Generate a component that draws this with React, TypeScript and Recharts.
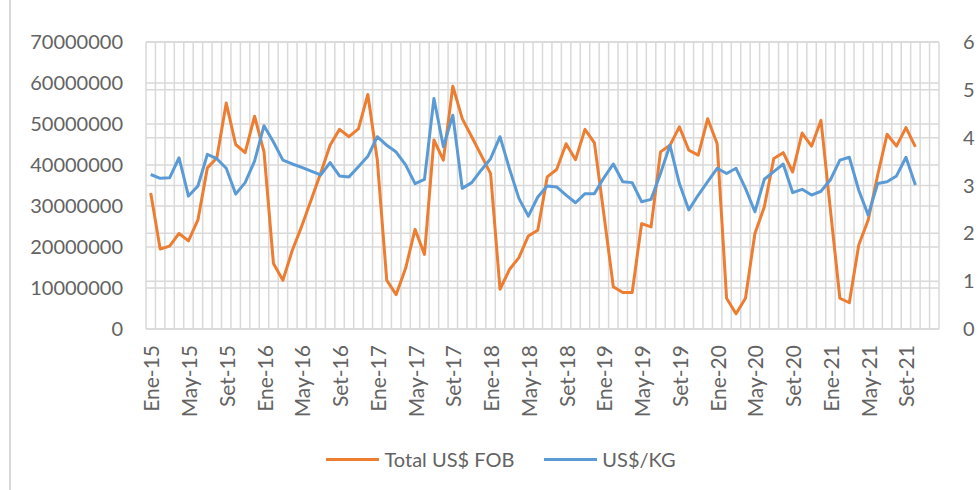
import { LineChart, Line, XAxis, YAxis, CartesianGrid, Legend } from "recharts";

/* ─── Datos ─── */

const MESES = ["Ene", "Feb", "Mar", "Abr", "May", "Jun", "Jul", "Ago", "Set", "Oct", "Nov", "Dic"];
const ANIOS = ["15", "16", "17", "18", "19", "20", "21"];

// Ene-15 .. Dic-21 (los dos últimos meses sin datos)
const categorias = ANIOS.flatMap((a) => MESES.map((m) => `${m}-${a}`));

const totalFob = [
  33200000, 19500000, 20200000, 23300000, 21500000, 26600000, 39300000, 41700000, 55100000, 45000000, 43000000, 51900000,
  43200000, 16000000, 11900000, 19200000, 25100000, 31500000, 38000000, 44800000, 48700000, 46900000, 48800000, 57200000,
  41200000, 11900000, 8400000, 14800000, 24300000, 18200000, 46100000, 41200000, 59200000, 51300000, 46900000, 42400000,
  37900000, 9700000, 14500000, 17400000, 22700000, 24100000, 37100000, 38900000, 45200000, 41300000, 48700000, 45400000,
  28000000, 10300000, 8900000, 8900000, 25700000, 24900000, 43200000, 44800000, 49300000, 43600000, 42400000, 51300000,
  45200000, 7500000, 3700000, 7500000, 23300000, 29800000, 41600000, 43000000, 38300000, 47800000, 44600000, 50900000,
  29000000, 7500000, 6400000, 20500000, 26600000, 37500000, 47500000, 44600000, 49100000, 44400000,
];

const usdKg = [
  3.23, 3.15, 3.16, 3.58, 2.78, 2.99, 3.65, 3.56, 3.36, 2.82, 3.06, 3.51,
  4.25, 3.91, 3.53, 3.45, 3.38, 3.3, 3.22, 3.48, 3.2, 3.18, 3.39, 3.61,
  4.02, 3.84, 3.7, 3.43, 3.04, 3.13, 4.82, 3.81, 4.47, 2.94, 3.06, 3.32,
  3.56, 4.02, 3.35, 2.73, 2.36, 2.76, 2.99, 2.97, 2.8, 2.64, 2.83, 2.83,
  3.16, 3.45, 3.08, 3.06, 2.66, 2.71, 3.25, 3.84, 3.04, 2.49, 2.8, 3.08,
  3.36, 3.25, 3.36, 2.94, 2.45, 3.13, 3.29, 3.45, 2.85, 2.92, 2.8, 2.88,
  3.12, 3.53, 3.59, 2.9, 2.38, 3.04, 3.08, 3.2, 3.59, 3.01,
];

const ticksIzq = [0, 10000000, 20000000, 30000000, 40000000, 50000000, 60000000, 70000000];
const ticksDer = [0, 1, 2, 3, 4, 5, 6];

const data = categorias.map((mes, i) => ({
  idx: i,
  mes,
  fob: totalFob[i] ?? null,
  kg: usdKg[i] ?? null,
}));

/* ─── Ejes auxiliares (etiquetas cada 4 meses, marcas en los bordes de categoría) ─── */

const n = categorias.length;
const dominio: [number, number] = [-0.5, n - 0.5];
const ticksEtiquetas = categorias.map((_, i) => i).filter((i) => i % 4 === 0);
const ticksBordes = Array.from({ length: n + 1 }, (_, i) => i - 0.5);
const ticksMarcas = ticksBordes.filter((_, i) => i % 4 === 0);

const FUENTE = "Lato, 'Open Sans', sans-serif";
const GRIS_TEXTO = "#636363";
const GRIS_LINEA = "#d9d9d9";

function TickRotado({ x, y, payload }: any) {
  return (
    <text
      x={x}
      y={y}
      transform={`rotate(-90, ${x}, ${y})`}
      textAnchor="end"
      dominantBaseline="central"
      fill={GRIS_TEXTO}
      fontSize={21}
      fontFamily={FUENTE}
    >
      {categorias[payload.value] ?? ""}
    </text>
  );
}

function Leyenda({ payload }: any) {
  return (
    <div
      style={{
        display: "flex",
        justifyContent: "center",
        alignItems: "center",
        height: 18,
        paddingLeft: 24,
        fontFamily: FUENTE,
        fontSize: 20,
        color: GRIS_TEXTO,
      }}
    >
      {(payload ?? []).map((p: any, i: number) => (
        <span
          key={i}
          style={{ display: "flex", alignItems: "center", marginLeft: i > 0 ? 30 : 0 }}
        >
          <span
            style={{
              display: "inline-block",
              width: 53,
              height: 3,
              background: p.color,
              marginRight: 5,
            }}
          />
          {p.value}
        </span>
      ))}
    </div>
  );
}

export default function App() {
  return (
    <div
      style={{
        position: "absolute",
        left: 0,
        top: 0,
        width: 978,
        height: 490,
        background: "#fff",
        fontFamily: FUENTE,
      }}
    >
      {/* borde izquierdo del área del gráfico */}
      <div
        style={{
          position: "absolute",
          left: 9,
          top: 0,
          bottom: 0,
          width: 1.5,
          background: GRIS_LINEA,
        }}
      />
      <LineChart
        width={978}
        height={490}
        data={data}
        margin={{ top: 42, right: 0, left: 0, bottom: 0 }}
      >
        <XAxis
          xAxisId="marcas"
          type="number"
          dataKey="idx"
          domain={dominio}
          ticks={ticksMarcas}
          interval={0}
          height={0}
          axisLine={{ stroke: GRIS_LINEA, strokeWidth: 1.5 }}
          tickLine={{ stroke: GRIS_LINEA, strokeWidth: 1.5 }}
          tickSize={6}
          tick={() => <g />}
        />
        <XAxis
          xAxisId="bordes"
          type="number"
          dataKey="idx"
          domain={dominio}
          ticks={ticksBordes}
          interval={0}
          height={0}
          hide
        />
        <XAxis
          xAxisId="main"
          type="number"
          dataKey="idx"
          domain={dominio}
          ticks={ticksEtiquetas}
          interval={0}
          height={121}
          axisLine={false}
          tickLine={false}
          tickSize={6}
          tickMargin={10}
          tick={<TickRotado />}
        />

        <YAxis
          yAxisId="left"
          domain={[0, 70000000]}
          ticks={ticksIzq}
          interval={0}
          width={146}
          axisLine={false}
          tickLine={false}
          tickSize={6}
          tickMargin={17}
          tick={{ fill: GRIS_TEXTO, fontSize: 20, fontFamily: FUENTE }}
        />
        <YAxis
          yAxisId="right"
          orientation="right"
          domain={[0, 6]}
          ticks={ticksDer}
          interval={0}
          width={39}
          axisLine={false}
          tickLine={false}
          tickSize={6}
          tickMargin={18}
          tick={{ fill: GRIS_TEXTO, fontSize: 20, fontFamily: FUENTE }}
        />

        {/* Cuadrícula: verticales por mes, horizontales de ambos ejes */}
        <CartesianGrid xAxisId="bordes" yAxisId="left" stroke={GRIS_LINEA} strokeWidth={1.5} />
        <CartesianGrid
          xAxisId="bordes"
          yAxisId="right"
          vertical={false}
          stroke={GRIS_LINEA}
          strokeWidth={1.5}
        />

        <Legend verticalAlign="bottom" height={40} content={<Leyenda />} />

        <Line
          xAxisId="main"
          yAxisId="left"
          type="linear"
          dataKey="fob"
          name="Total US$ FOB"
          stroke="#ED7D31"
          strokeWidth={3}
          strokeLinejoin="round"
          dot={false}
          activeDot={false}
          isAnimationActive={false}
        />
        <Line
          xAxisId="main"
          yAxisId="right"
          type="linear"
          dataKey="kg"
          name="US$/KG"
          stroke="#5B9BD5"
          strokeWidth={3}
          strokeLinejoin="round"
          dot={false}
          activeDot={false}
          isAnimationActive={false}
        />
      </LineChart>
    </div>
  );
}
